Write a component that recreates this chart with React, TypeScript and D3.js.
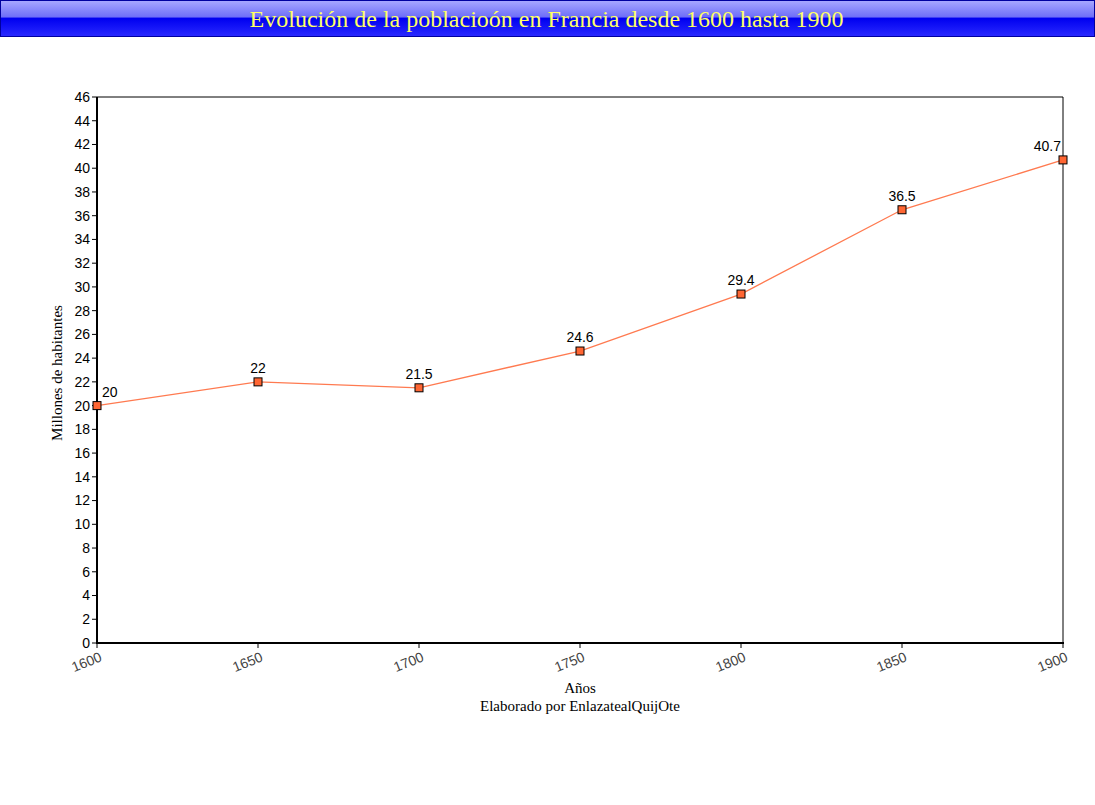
import React from "react";
import * as d3 from "d3";

const years = [1600, 1650, 1700, 1750, 1800, 1850, 1900];
const population = [20, 22, 21.5, 24.6, 29.4, 36.5, 40.7];
const valueLabels = ["20", "22", "21.5", "24.6", "29.4", "36.5", "40.7"];
const yTicks = d3.range(0, 47, 2);
const title = "Evolución de la poblacioón en Francia desde 1600 hasta 1900";
const yTitle = "Millones de habitantes";
const xTitle = "Años";
const subTitle = "Elaborado por EnlazatealQuijOte";

export default function App() {
  const W = 1095, H = 805;
  const left = 97, right = 1063, top = 97, bottom = 643;
  const x = d3.scaleLinear().domain([1600, 1900]).range([left, right]);
  const y = d3.scaleLinear().domain([0, 46]).range([bottom, top]);
  const line = d3.line<number>().x((_, i) => x(years[i])).y((d) => y(d));
  const sans = "'Liberation Sans', Arial, sans-serif";
  const serif = "'Liberation Serif', 'Times New Roman', serif";
  return (
    <svg width={W} height={H} style={{ position: "absolute", left: 0, top: 0, background: "#fff" }}>
      <defs>
        <linearGradient id="tb" x1="0" y1="0" x2="0" y2="1">
          <stop offset="0" stopColor="#a8a8ff" />
          <stop offset="0.45" stopColor="#6f6ff8" />
          <stop offset="0.5" stopColor="#0000f0" />
          <stop offset="1" stopColor="#2a2aff" />
        </linearGradient>
      </defs>
      <rect x={0.5} y={0.5} width={W - 1} height={36} fill="url(#tb)" stroke="#0000a0" />
      <text x={W / 2 - 1} y={27} textAnchor="middle" fill="#ffff66" fontFamily={serif} fontSize={24}>
        {title}
      </text>

      {/* plot frame */}
      <line x1={left} y1={top} x2={right} y2={top} stroke="#000" />
      <line x1={right} y1={top} x2={right} y2={bottom} stroke="#000" />
      <line x1={left} y1={top} x2={left} y2={bottom + 1} stroke="#000" strokeWidth={2} />
      <line x1={left - 1} y1={bottom} x2={right + 1} y2={bottom} stroke="#000" strokeWidth={2} />

      {/* y axis */}
      {yTicks.map((t) => (
        <g key={t}>
          <line x1={left - 5} x2={left} y1={y(t)} y2={y(t)} stroke="#000" />
          <text x={left - 7} y={y(t)} dy="0.35em" textAnchor="end" fontFamily={sans} fontSize={14} fill="#000">
            {t}
          </text>
        </g>
      ))}

      {/* x axis */}
      {years.map((yr) => (
        <g key={yr}>
          <line x1={x(yr)} x2={x(yr)} y1={bottom} y2={bottom + 5} stroke="#000" />
          <text
            transform={`translate(${x(yr) + 4},${bottom + 13}) rotate(-22)`}
            textAnchor="end"
            dy="0.35em"
            fontFamily={sans}
            fontSize={14}
            fill="#444"
          >
            {yr}
          </text>
        </g>
      ))}

      <text
        transform={`translate(62,${(top + bottom) / 2 + 3}) rotate(-90)`}
        textAnchor="middle"
        fontFamily={serif}
        fontSize={15}
        fill="#000"
      >
        {yTitle}
      </text>
      <text x={(left + right) / 2} y={693} textAnchor="middle" fontFamily={serif} fontSize={15}>
        {xTitle}
      </text>
      <text x={(left + right) / 2} y={711} textAnchor="middle" fontFamily={serif} fontSize={15}>
        {subTitle}
      </text>

      <path d={line(population) || ""} fill="none" stroke="#ff7a50" strokeWidth={1.3} />
      {population.map((v, i) => {
        const cx = x(years[i]);
        const cy = y(v);
        let anchor: "start" | "middle" | "end" = "middle";
        let lx = cx;
        if (i === 0) { anchor = "start"; lx = cx + 5; }
        if (i === population.length - 1) { anchor = "end"; lx = cx - 2; }
        return (
          <g key={i}>
            <rect x={cx - 4} y={cy - 4} width={8} height={8} fill="#ff6633" stroke="#000" strokeWidth={1} />
            <text x={lx} y={cy - 9} textAnchor={anchor} fontFamily={sans} fontSize={14} fill="#000">
              {valueLabels[i]}
            </text>
          </g>
        );
      })}
    </svg>
  );
}
